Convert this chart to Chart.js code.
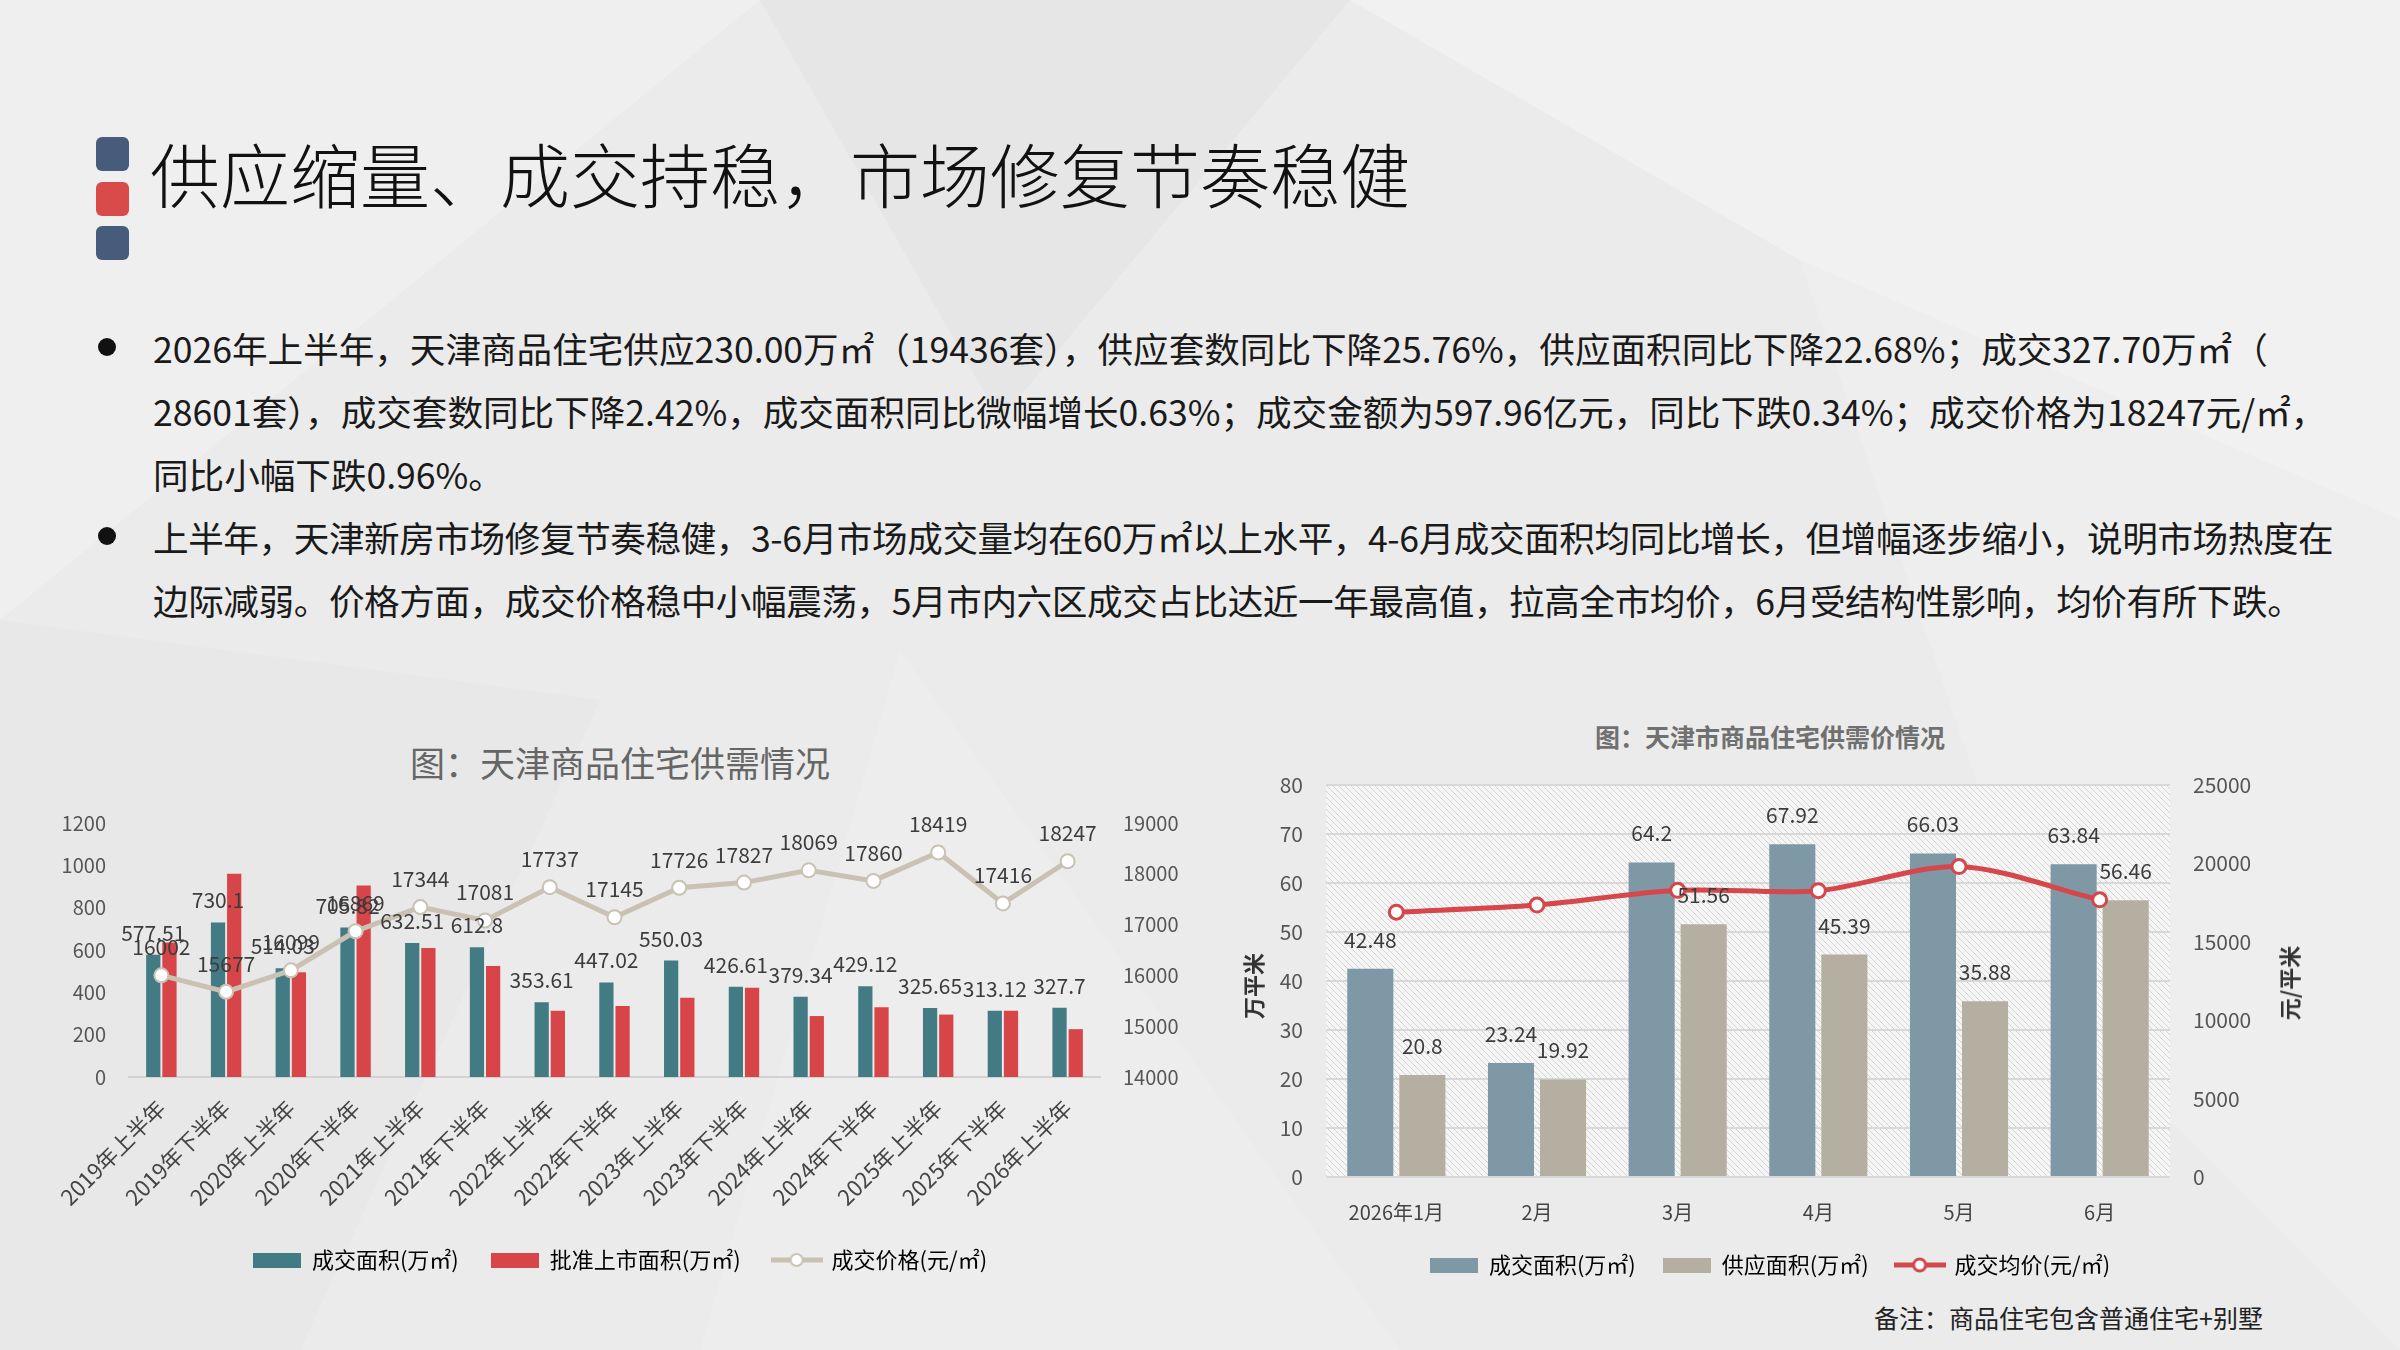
<!DOCTYPE html>
<html>
<head>
<meta charset="utf-8">
<script src="https://cdn.jsdelivr.net/npm/chart.js@4.4.1/dist/chart.umd.min.js"></script>
<style>
  html, body { margin: 0; padding: 0; }
  body {
    width: 2400px; height: 1350px; position: relative; overflow: hidden;
    background: #ebebeb;
    font-family: "Noto Sans CJK SC", "Noto Sans", sans-serif;
  }
  #bg { position: absolute; left: 0; top: 0; }
  .sq { position: absolute; left: 96px; width: 33px; height: 34px; border-radius: 6px; }
  #title {
    position: absolute; left: 150px; top: 128px; font-size: 70px; font-weight: 300;
    color: #111; line-height: 90px; white-space: nowrap;
  }
  .para {
    position: absolute; left: 153px; font-size: 35.6px; line-height: 63px;
    color: #1a1a1a; white-space: nowrap;
  }
  .dot { position: absolute; left: 98px; width: 18px; height: 18px; border-radius: 50%; background: #111; }
  #leftTitle {
    position: absolute; left: 20px; width: 1200px; top: 740px; text-align: center;
    font-size: 35px; color: #666; line-height: 44px;
  }
  #rightTitle {
    position: absolute; left: 1200px; width: 1140px; top: 721px; text-align: center;
    font-size: 25px; font-weight: bold; color: #707070; line-height: 30px;
  }
  .ytitle {
    position: absolute; font-size: 22px; font-weight: bold; color: #333;
    transform: translate(-50%, -50%) rotate(-90deg); white-space: nowrap;
  }
  #note {
    position: absolute; right: 137px; top: 1301px; font-size: 25px; color: #222;
    line-height: 32px; white-space: nowrap;
  }
  canvas { position: absolute; }
</style>
</head>
<body>
<svg id="bg" width="2400" height="1350">
  <polygon points="0,0 760,0 0,620" fill="#f1f1f1" opacity="0.7"/>
  <polygon points="760,0 1350,0 1000,420" fill="#e3e3e3" opacity="0.6"/>
  <polygon points="1350,0 2400,0 2400,520 1800,260" fill="#f2f2f2" opacity="0.8"/>
  <polygon points="1800,260 2400,520 2400,1350 2050,1000" fill="#efefef" opacity="0.7"/>
  <polygon points="0,620 600,700 300,1350 0,1350" fill="#e6e6e6" opacity="0.6"/>
  <polygon points="900,650 1400,1350 700,1350" fill="#f0f0f0" opacity="0.5"/>
</svg>

<div class="sq" style="top:137px;background:#465c7a"></div>
<div class="sq" style="top:182px;background:#d94a4a"></div>
<div class="sq" style="top:226px;background:#465c7a"></div>
<div id="title">供应缩量、成交持稳，市场修复节奏稳健</div>

<div class="dot" style="top:338px"></div>
<div class="dot" style="top:527px"></div>
<div class="para" style="top:316px">2026年上半年，天津商品住宅供应230.00万㎡（19436套），供应套数同比下降25.76%，供应面积同比下降22.68%；成交327.70万㎡（<br>28601套），成交套数同比下降2.42%，成交面积同比微幅增长0.63%；成交金额为597.96亿元，同比下跌0.34%；成交价格为18247元/㎡，<br>同比小幅下跌0.96%。</div>
<div class="para" style="top:505px;letter-spacing:-0.4px">上半年，天津新房市场修复节奏稳健，3-6月市场成交量均在60万㎡以上水平，4-6月成交面积均同比增长，但增幅逐步缩小，说明市场热度在<br>边际减弱。价格方面，成交价格稳中小幅震荡，5月市内六区成交占比达近一年最高值，拉高全市均价，6月受结构性影响，均价有所下跌。</div>

<div id="leftTitle">图：天津商品住宅供需情况</div>
<canvas id="supplyChart" width="1200" height="520" style="left:20px;top:780px"></canvas>

<div id="rightTitle">图：天津市商品住宅供需价情况</div>
<canvas id="monthChart" width="1140" height="541" style="left:1200px;top:749px"></canvas>
<div class="ytitle" style="left:1252px;top:986px">万平米</div>
<div class="ytitle" style="left:2288px;top:983px">元/平米</div>
<div id="note">备注：商品住宅包含普通住宅+别墅</div>

<script>
// ---- half-year chart data ----
const halfYears = ['2019年上半年', '2019年下半年', '2020年上半年', '2020年下半年', '2021年上半年',
  '2021年下半年', '2022年上半年', '2022年下半年', '2023年上半年', '2023年下半年',
  '2024年上半年', '2024年下半年', '2025年上半年', '2025年下半年', '2026年上半年'];
const dealArea = [577.51, 730.1, 514.03, 705.82, 632.51, 612.8, 353.61, 447.02, 550.03, 426.61,
  379.34, 429.12, 325.65, 313.12, 327.7];
const approvedArea = [635, 960, 495, 905, 610, 525, 313, 335, 375, 422, 288, 330, 295, 313, 226];
const dealPrice = [16002, 15677, 16099, 16869, 17344, 17081, 17737, 17145, 17726, 17827,
  18069, 17860, 18419, 17416, 18247];
const areaTicks = [0, 1200, 200];
const priceTicks = [14000, 19000, 500];

// ---- monthly chart data ----
const months = ['2026年1月', '2月', '3月', '4月', '5月', '6月'];
const monthDeal = [42.48, 23.24, 64.2, 67.92, 66.03, 63.84];
const monthSupply = [20.8, 19.92, 51.56, 45.39, 35.88, 56.46];
const monthPrice = [16890, 17340, 18280, 18260, 19800, 17680];
const monthAreaTicks = [0, 80, 10];
const monthPriceTicks = [0, 25000, 5000];

const FONT = '"Noto Sans CJK SC", "Noto Sans", sans-serif';
Chart.defaults.font.family = FONT;
const plain = v => String(v);

// legend icons
function boxIcon(color) {
  const c = document.createElement('canvas');
  c.width = 48; c.height = 15;
  const g = c.getContext('2d');
  g.fillStyle = color;
  g.fillRect(0, 0, 48, 15);
  return c;
}
function lineIcon(color, lw, bw) {
  const c = document.createElement('canvas');
  c.width = 52; c.height = 18;
  const g = c.getContext('2d');
  g.strokeStyle = color; g.lineWidth = lw;
  g.beginPath(); g.moveTo(0, 9); g.lineTo(52, 9); g.stroke();
  g.fillStyle = '#fff'; g.lineWidth = bw;
  g.beginPath(); g.arc(26, 9, 6, 0, Math.PI * 2); g.fill(); g.stroke();
  return c;
}
function legendFromDatasets(chart) {
  return chart.data.datasets.map((ds, i) => ({
    text: ds.label, pointStyle: ds.legendIcon, datasetIndex: i,
    fillStyle: 'transparent', strokeStyle: 'transparent', lineWidth: 0, hidden: false
  }));
}

// draws the numbers above bars / points
const valueLabels = {
  id: 'valueLabels',
  afterDatasetsDraw(chart, args, opts) {
    const ctx = chart.ctx;
    ctx.save();
    ctx.font = opts.size + 'px ' + FONT;
    ctx.fillStyle = opts.color;
    ctx.textAlign = 'center';
    ctx.textBaseline = 'middle';
    chart.data.datasets.forEach((ds, i) => {
      if (!ds.labelOffset) return;
      chart.getDatasetMeta(i).data.forEach((el, j) => {
        ctx.fillText(String(ds.data[j]), el.x, el.y - ds.labelOffset);
      });
    });
    ctx.restore();
  }
};

// hatched plot background
function hatchPattern(ctx) {
  const c = document.createElement('canvas');
  c.width = 6; c.height = 6;
  const g = c.getContext('2d');
  g.fillStyle = '#f5f5f5'; g.fillRect(0, 0, 6, 6);
  g.strokeStyle = '#d4d4d4'; g.lineWidth = 1;
  g.beginPath();
  g.moveTo(0, 0); g.lineTo(6, 6);
  g.moveTo(-1, 5); g.lineTo(1, 7);
  g.moveTo(5, -1); g.lineTo(7, 1);
  g.stroke();
  return ctx.createPattern(c, 'repeat');
}
const hatchBg = {
  id: 'hatchBg',
  beforeDraw(chart) {
    const {ctx, chartArea: a} = chart;
    ctx.save();
    ctx.fillStyle = hatchPattern(ctx);
    ctx.fillRect(a.left, a.top, a.right - a.left, a.bottom - a.top);
    ctx.restore();
  }
};

new Chart(document.getElementById('supplyChart'), {
  type: 'bar',
  data: {
    labels: halfYears,
    datasets: [
      {
        label: '成交面积(万㎡)', data: dealArea, backgroundColor: '#427b84',
        yAxisID: 'y', categoryPercentage: 0.5, barPercentage: 0.88,
        labelOffset: 22, legendIcon: boxIcon('#427b84')
      },
      {
        label: '批准上市面积(万㎡)', data: approvedArea, backgroundColor: '#d84548',
        yAxisID: 'y', categoryPercentage: 0.5, barPercentage: 0.88,
        legendIcon: boxIcon('#d84548')
      },
      {
        type: 'line', label: '成交价格(元/㎡)', data: dealPrice, yAxisID: 'y1', order: -1,
        borderColor: '#c9c2b3', borderWidth: 5, tension: 0,
        pointRadius: 7, pointBackgroundColor: '#ffffff', pointBorderColor: '#c9c2b3', pointBorderWidth: 2,
        labelOffset: 28, legendIcon: lineIcon('#c9c2b3', 5, 2)
      }
    ]
  },
  options: {
    responsive: false,
    animation: false,
    layout: { padding: { top: 43, bottom: 19, left: 0, right: 0 } },
    plugins: {
      legend: {
        position: 'bottom',
        labels: {
          usePointStyle: true, pointStyleWidth: 48, boxHeight: 16, padding: 32,
          color: '#444', font: { size: 22 }, generateLabels: legendFromDatasets
        }
      },
      tooltip: { enabled: false },
      valueLabels: { size: 21, color: '#3c3c3c' }
    },
    scales: {
      x: {
        grid: { display: false, drawTicks: false },
        border: { display: true, color: '#d2d2d2', width: 2 },
        ticks: { color: '#444', font: { size: 22 }, minRotation: 45, maxRotation: 45, padding: 18, autoSkip: false },
        afterFit: s => { s.height = 140; }
      },
      y: {
        position: 'left', min: areaTicks[0], max: areaTicks[1],
        grid: { display: false, drawTicks: false }, border: { display: false },
        ticks: { stepSize: areaTicks[2], color: '#555', font: { size: 20 }, padding: 23, callback: plain },
        afterFit: s => { s.width = 109; }
      },
      y1: {
        position: 'right', min: priceTicks[0], max: priceTicks[1],
        grid: { display: false, drawTicks: false }, border: { display: false },
        ticks: { stepSize: priceTicks[2], color: '#555', font: { size: 20 }, padding: 23, callback: plain },
        afterFit: s => { s.width = 120; }
      }
    }
  },
  plugins: [valueLabels]
});

new Chart(document.getElementById('monthChart'), {
  type: 'bar',
  data: {
    labels: months,
    datasets: [
      {
        type: 'line', label: '成交均价(元/㎡)', data: monthPrice, yAxisID: 'y1', order: -1,
        borderColor: '#d5474b', borderWidth: 5, tension: 0.3,
        pointRadius: 7, pointBackgroundColor: '#ffffff', pointBorderColor: '#d5474b', pointBorderWidth: 3,
        legendIcon: lineIcon('#d5474b', 5, 3)
      },
      {
        label: '成交面积(万㎡)', data: monthDeal, backgroundColor: '#7e98a6',
        yAxisID: 'y', categoryPercentage: 0.74, barPercentage: 0.885,
        labelOffset: 29, legendIcon: boxIcon('#7e98a6')
      },
      {
        label: '供应面积(万㎡)', data: monthSupply, backgroundColor: '#b5afa1',
        yAxisID: 'y', categoryPercentage: 0.74, barPercentage: 0.885,
        labelOffset: 29, legendIcon: boxIcon('#b5afa1')
      }
    ]
  },
  options: {
    responsive: false,
    animation: false,
    layout: { padding: { top: 36, bottom: 4, left: 0, right: 0 } },
    plugins: {
      legend: {
        position: 'bottom',
        labels: {
          usePointStyle: true, pointStyleWidth: 48, boxHeight: 16, padding: 27,
          color: '#444', font: { size: 22 },
          generateLabels: chart => {
            const items = legendFromDatasets(chart);
            return [items[1], items[2], items[0]];
          }
        }
      },
      tooltip: { enabled: false },
      valueLabels: { size: 21, color: '#3c3c3c' }
    },
    scales: {
      x: {
        grid: { display: false, drawTicks: false },
        border: { display: false },
        ticks: { color: '#444', font: { size: 20 }, padding: 23, maxRotation: 0 },
        afterFit: s => { s.height = 50; }
      },
      y: {
        position: 'left', min: monthAreaTicks[0], max: monthAreaTicks[1],
        grid: { color: '#d8d8d8', lineWidth: 2, drawTicks: false }, border: { display: false },
        ticks: { stepSize: monthAreaTicks[2], color: '#555', font: { size: 21 }, padding: 23, callback: plain },
        afterFit: s => { s.width = 126; }
      },
      y1: {
        position: 'right', min: monthPriceTicks[0], max: monthPriceTicks[1],
        grid: { display: false, drawTicks: false }, border: { display: false },
        ticks: { stepSize: monthPriceTicks[2], color: '#555', font: { size: 21 }, padding: 23, callback: plain },
        afterFit: s => { s.width = 170; }
      }
    }
  },
  plugins: [hatchBg, valueLabels]
});
</script>
</body>
</html>
